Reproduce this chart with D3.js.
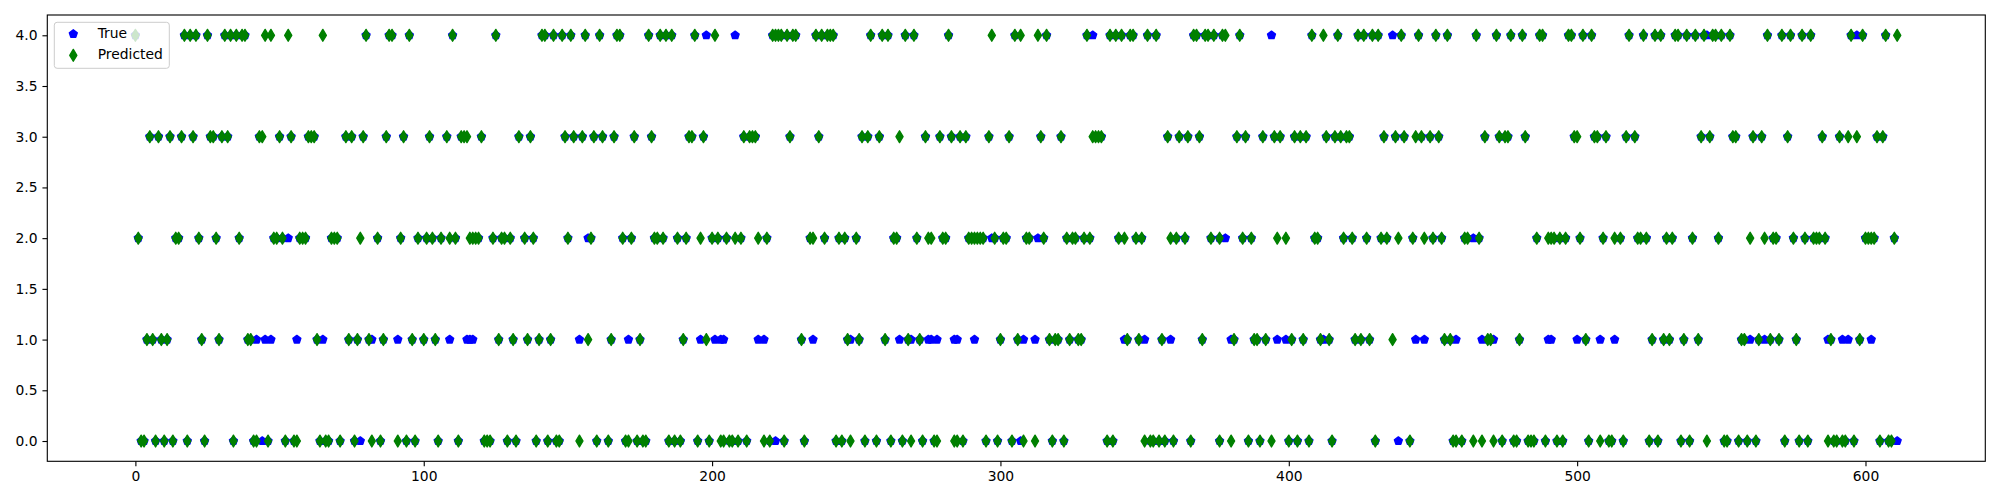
<!DOCTYPE html>
<html>
<head>
<meta charset="utf-8">
<script src="https://cdn.jsdelivr.net/npm/d3@7"></script>
<style>
  html, body { margin: 0; padding: 0; background: #ffffff; }
  svg { display: block; }
</style>
</head>
<body>
<svg id="chart" width="2000" height="500"></svg>
<script>
// ---- data (sample index lists per predicted class) ----
const predictedAt0 = [2, 3, 7, 10, 13, 18, 24, 34, 41, 42, 46, 52, 55, 56, 64, 66, 67, 71, 76, 82, 85, 91, 94, 97, 105, 112, 121, 122, 123, 129, 132, 139, 143, 146, 147, 154, 160, 164, 170, 171, 174, 176, 177, 185, 187, 189, 195, 199, 203, 204, 206, 207, 209, 212, 218, 220, 225, 232, 243, 245, 248, 253, 257, 262, 266, 269, 273, 277, 278, 284, 285, 287, 295, 299, 304, 308, 312, 318, 322, 337, 339, 350, 352, 353, 355, 357, 360, 366, 376, 380, 386, 390, 394, 400, 403, 407, 415, 430, 442, 457, 458, 460, 464, 467, 471, 474, 478, 479, 483, 484, 485, 489, 493, 495, 504, 508, 511, 512, 516, 525, 528, 536, 539, 545, 551, 552, 556, 559, 562, 572, 577, 580, 587, 589, 590, 592, 593, 596, 605, 608, 609];
const predictedAt1 = [4, 6, 9, 11, 23, 29, 39, 40, 63, 74, 77, 81, 86, 96, 100, 104, 126, 131, 136, 140, 144, 157, 165, 175, 190, 198, 231, 247, 251, 260, 268, 272, 300, 306, 317, 319, 320, 324, 327, 328, 344, 348, 356, 370, 381, 388, 389, 392, 401, 405, 411, 414, 423, 425, 428, 436, 454, 456, 469, 470, 480, 503, 526, 530, 532, 537, 542, 557, 558, 563, 567, 570, 576, 588, 598];
const predictedAt2 = [1, 14, 15, 22, 28, 36, 48, 49, 51, 57, 58, 59, 68, 69, 70, 78, 84, 92, 98, 101, 103, 106, 109, 111, 116, 117, 118, 119, 124, 127, 128, 130, 135, 138, 150, 158, 169, 172, 180, 181, 183, 188, 191, 196, 200, 202, 205, 208, 210, 216, 219, 234, 235, 239, 244, 246, 250, 263, 264, 271, 275, 276, 280, 281, 289, 290, 291, 292, 293, 294, 298, 301, 302, 309, 310, 315, 323, 325, 326, 329, 331, 341, 343, 347, 349, 359, 361, 364, 373, 376, 384, 387, 396, 399, 409, 410, 419, 422, 427, 432, 434, 438, 443, 447, 450, 453, 461, 462, 466, 486, 490, 491, 492, 494, 496, 501, 509, 513, 515, 521, 522, 524, 531, 533, 540, 549, 560, 565, 568, 569, 575, 579, 582, 583, 584, 586, 600, 601, 602, 603, 610];
const predictedAt3 = [5, 8, 12, 16, 20, 26, 27, 30, 32, 43, 44, 50, 54, 60, 61, 62, 73, 75, 79, 87, 93, 102, 108, 113, 114, 115, 120, 133, 137, 149, 152, 155, 159, 162, 166, 173, 179, 192, 193, 197, 211, 213, 214, 215, 227, 237, 252, 254, 258, 265, 274, 279, 283, 286, 288, 296, 303, 314, 321, 332, 333, 334, 335, 358, 362, 365, 369, 382, 385, 391, 395, 397, 402, 404, 406, 413, 416, 418, 420, 421, 433, 437, 440, 444, 446, 449, 452, 468, 473, 475, 476, 482, 499, 500, 506, 507, 510, 517, 520, 543, 546, 554, 555, 561, 564, 573, 585, 591, 594, 597, 604, 606];
const predictedAt4 = [0, 17, 19, 21, 25, 31, 33, 35, 37, 38, 45, 47, 53, 65, 80, 88, 89, 95, 110, 125, 141, 142, 145, 148, 151, 156, 161, 167, 168, 178, 182, 184, 186, 194, 201, 221, 222, 223, 224, 226, 228, 229, 236, 238, 240, 241, 242, 255, 259, 261, 267, 270, 282, 297, 305, 307, 313, 316, 330, 338, 340, 342, 345, 346, 351, 354, 367, 368, 371, 372, 374, 377, 378, 383, 408, 412, 417, 424, 426, 429, 431, 439, 445, 451, 455, 465, 472, 477, 481, 487, 488, 497, 498, 502, 505, 518, 523, 527, 529, 534, 535, 538, 541, 544, 547, 548, 550, 553, 566, 571, 574, 578, 581, 595, 599, 607, 611];

// samples whose true class differs from the prediction
const trueDiffIndex = [42, 44, 45, 47, 53, 56, 65, 78, 82, 91, 109, 115, 116, 117, 154, 157, 171, 196, 198, 201, 203, 204, 208, 216, 218, 222, 235, 248, 265, 269, 275, 276, 278, 284, 285, 291, 297, 307, 308, 312, 313, 332, 343, 350, 359, 378, 380, 394, 396, 399, 412, 436, 438, 444, 447, 458, 464, 467, 471, 490, 491, 500, 508, 513, 545, 560, 565, 587, 592, 594, 597, 602, 611];
const trueDiffValue = [1, 0, 1, 1, 2, 1, 1, 0, 1, 1, 1, 1, 1, 1, 1, 2, 1, 1, 4, 1, 1, 1, 4, 1, 1, 0, 1, 1, 1, 1, 1, 1, 1, 1, 1, 1, 2, 0, 1, 1, 2, 4, 1, 1, 1, 2, 1, 4, 1, 1, 1, 4, 0, 1, 1, 1, 2, 1, 1, 1, 1, 1, 1, 1, 4, 1, 1, 1, 1, 1, 4, 1, 0];

const xTickValues = [0, 100, 200, 300, 400, 500, 600];
const yTickValues = [0, 0.5, 1, 1.5, 2, 2.5, 3, 3.5, 4];
const seriesNames = ["True", "Predicted"];
const seriesColors = ["#0000ff", "#008000"];

// ---- assemble points ----
const predictedByLevel = [predictedAt0, predictedAt1, predictedAt2, predictedAt3, predictedAt4];
const predicted = [];
predictedByLevel.forEach((arr, lvl) => arr.forEach(i => predicted.push({ i: i, v: lvl })));
predicted.sort((a, b) => a.i - b.i);
const overrides = new Map(trueDiffIndex.map((k, j) => [k, trueDiffValue[j]]));
const truth = predicted.map(d => ({ i: d.i, v: overrides.has(d.i) ? overrides.get(d.i) : d.v }));

// ---- layout ----
const W = 2000, H = 500;
const plot = { left: 47.3, right: 1985.3, top: 15, bottom: 461.3 };
const xMax = d3.max(predicted, d => d.i);
const xPad = xMax * 0.05;
const x = d3.scaleLinear().domain([-xPad, xMax + xPad]).range([plot.left, plot.right]);
const y = d3.scaleLinear().domain([-0.2, 4.2]).range([plot.bottom, plot.top]);

const svg = d3.select("#chart");
svg.append("rect").attr("width", W).attr("height", H).attr("fill", "#ffffff");

const FONT = "'DejaVu Sans', sans-serif";
const FS = 13.89;
const MEW = 1.39;

// marker shapes (matplotlib 'p' and 'd', markersize 6)
const pentR = 4.17;
const pentPts = d3.range(5).map(k => {
  const a = (-90 + 72 * k) * Math.PI / 180;
  return [pentR * Math.cos(a), pentR * Math.sin(a)];
});
const pentagonPath = "M" + pentPts.map(p => p[0].toFixed(3) + "," + p[1].toFixed(3)).join("L") + "Z";
const dh = 5.9, dw = 3.54;
const diamondPath = `M0,${-dh}L${dw},0L0,${dh}L${-dw},0Z`;

// ---- markers ----
const gTrue = svg.append("g");
gTrue.selectAll("path").data(truth).join("path")
  .attr("d", pentagonPath)
  .attr("transform", d => `translate(${x(d.i)},${y(d.v)})`)
  .attr("fill", seriesColors[0])
  .attr("stroke", seriesColors[0])
  .attr("stroke-width", MEW)
  .attr("stroke-linejoin", "round");

const gPred = svg.append("g");
gPred.selectAll("path").data(predicted).join("path")
  .attr("d", diamondPath)
  .attr("transform", d => `translate(${x(d.i)},${y(d.v)})`)
  .attr("fill", seriesColors[1])
  .attr("stroke", seriesColors[1])
  .attr("stroke-width", MEW)
  .attr("stroke-linejoin", "round");

// ---- axes ----
const tickLen = 4.86, tickPad = 4.86;
const gx = svg.append("g")
  .attr("transform", `translate(0,${plot.bottom})`)
  .call(d3.axisBottom(x).tickValues(xTickValues).tickFormat(d3.format("d"))
    .tickSizeOuter(0).tickSize(tickLen).tickPadding(tickPad));
gx.select(".domain").remove();
gx.attr("font-family", FONT).attr("font-size", FS);
gx.selectAll("line").attr("stroke", "#000").attr("stroke-width", 1.11);
gx.selectAll("text").attr("fill", "#000");

const gy = svg.append("g")
  .attr("transform", `translate(${plot.left},0)`)
  .call(d3.axisLeft(y).tickValues(yTickValues).tickFormat(d3.format(".1f"))
    .tickSizeOuter(0).tickSize(tickLen).tickPadding(tickPad));
gy.select(".domain").remove();
gy.attr("font-family", FONT).attr("font-size", FS);
gy.selectAll("line").attr("stroke", "#000").attr("stroke-width", 1.11);
gy.selectAll("text").attr("fill", "#000");

// frame
svg.append("rect")
  .attr("x", plot.left).attr("y", plot.top)
  .attr("width", plot.right - plot.left).attr("height", plot.bottom - plot.top)
  .attr("fill", "none").attr("stroke", "#000").attr("stroke-width", 1.11);

// ---- legend ----
const lg = svg.append("g");
lg.append("rect")
  .attr("x", 54.3).attr("y", 22.3).attr("width", 115).attr("height", 46)
  .attr("rx", 2.8).attr("ry", 2.8)
  .attr("fill", "#ffffff").attr("fill-opacity", 0.8)
  .attr("stroke", "#cccccc").attr("stroke-width", 1.0);
const legendRows = [
  { name: seriesNames[0], path: pentagonPath, color: seriesColors[0], my: 34, ty: 38.3 },
  { name: seriesNames[1], path: diamondPath, color: seriesColors[1], my: 55.3, ty: 59.3 }
];
legendRows.forEach(r => {
  lg.append("path").attr("d", r.path)
    .attr("transform", `translate(73.3,${r.my})`)
    .attr("fill", r.color).attr("stroke", r.color).attr("stroke-width", MEW)
    .attr("stroke-linejoin", "round");
  lg.append("text").attr("x", 97.7).attr("y", r.ty)
    .attr("font-family", FONT).attr("font-size", FS).attr("fill", "#000")
    .text(r.name);
});
</script>
</body>
</html>
